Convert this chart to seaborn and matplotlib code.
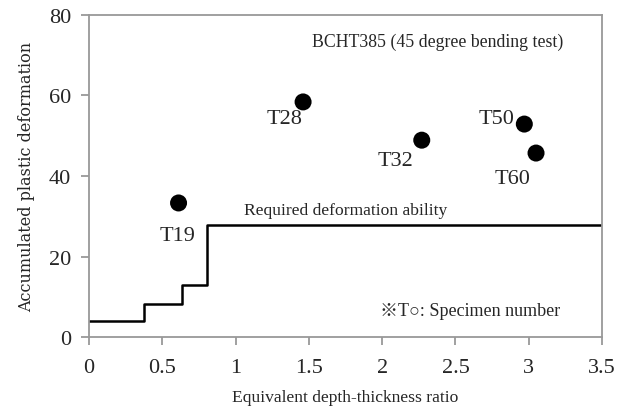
import pandas as pd
import matplotlib
matplotlib.use("Agg")
import matplotlib.pyplot as plt
import seaborn as sns

# Specimen data
specimens = ["T19", "T28", "T32", "T50", "T60"]
ratio = [0.61, 1.46, 2.27, 2.97, 3.05]
deformation = [33.3, 58.4, 48.9, 52.9, 45.7]

# Required deformation ability (step line)
req_ratio = [0.0, 0.375, 0.635, 0.805, 3.5]
req_deform = [4.0, 8.2, 12.9, 27.9, 27.9]

pts = pd.DataFrame({"specimen": specimens, "ratio": ratio, "deformation": deformation})
req = pd.DataFrame({"ratio": req_ratio, "deformation": req_deform})

sns.set_style("white")
plt.rcParams["font.family"] = ["Liberation Serif", "Noto Sans CJK JP", "DejaVu Sans"]

fig = plt.figure(figsize=(6.37, 4.10), dpi=100)
ax = fig.add_axes([0.14, 0.1756, 0.805, 0.7854])

sns.lineplot(data=req, x="ratio", y="deformation", drawstyle="steps-post",
             color="black", linewidth=1.8, estimator=None, ax=ax)
sns.scatterplot(data=pts, x="ratio", y="deformation", color="black",
                s=150, edgecolor="none", ax=ax, zorder=3)

# point labels
offsets = {"T19": (-0.01, -8.0), "T28": (-0.13, -4.0), "T32": (-0.18, -5.0),
           "T50": (-0.19, 1.3), "T60": (-0.16, -6.2)}
for s, xv, yv in zip(specimens, ratio, deformation):
    dx, dy = offsets[s]
    ax.text(xv + dx, yv + dy, s, ha="center", va="center", fontsize=16)

ax.text(1.75, 31.5, "Required deformation ability", ha="center", va="center", fontsize=12.6)
ax.text(2.38, 73.5, "BCHT385 (45 degree bending test)", ha="center", va="center", fontsize=12.8)
ax.text(2.6, 6.6, "※T○: Specimen number", ha="center", va="center", fontsize=13)

ax.set_xlim(0, 3.5)
ax.set_ylim(0, 80)
ax.set_xticks([0, 0.5, 1, 1.5, 2, 2.5, 3, 3.5])
ax.set_xticklabels(["0", "0.5", "1", "1.5", "2", "2.5", "3", "3.5"])
ax.set_yticks([0, 20, 40, 60, 80])
ax.set_xlabel("Equivalent depth-thickness ratio", fontsize=12.6, labelpad=9)
ax.set_ylabel("Accumulated plastic deformation", fontsize=11.5,
              family=["DejaVu Serif"], labelpad=10)

for sp in ax.spines.values():
    sp.set_color("#999999")
    sp.set_linewidth(1.3)
ax.tick_params(axis="both", which="major", labelsize=16, color="#999999",
               length=6, width=1.3, direction="out", bottom=True, left=True)
ax.tick_params(axis="x", pad=9)
ax.tick_params(axis="y", pad=7)

fig.savefig("out.png", dpi=100)
